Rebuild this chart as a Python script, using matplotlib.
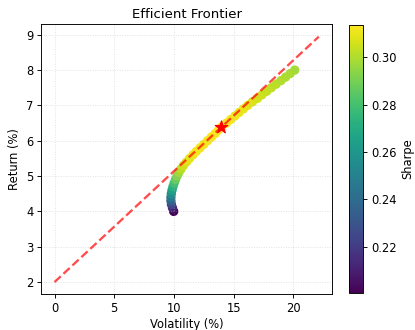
import numpy as np
import matplotlib
matplotlib.use("Agg")
import matplotlib.pyplot as plt

# frontier points (return %, volatility %)
frontier_ret = [4.0, 4.1, 4.2, 4.3, 4.4, 4.5, 4.6, 4.7, 4.8, 4.9,
                5.0, 5.1, 5.2, 5.3, 5.4, 5.5, 5.6, 5.7, 5.8, 5.9,
                6.0, 6.1, 6.2, 6.3, 6.4, 6.5, 6.6, 6.7, 6.8, 6.9,
                7.0, 7.1, 7.2, 7.3, 7.4, 7.5, 7.6, 7.7, 7.8, 7.9, 8.0]
frontier_vol = [9.98, 9.88, 9.79, 9.75, 9.75, 9.78, 9.84, 9.92, 10.02, 10.13,
                10.26, 10.42, 10.60, 10.80, 11.05, 11.31, 11.59, 11.88, 12.19, 12.50,
                12.81, 13.13, 13.44, 13.72, 14.03, 14.40, 14.75, 15.11, 15.46, 15.82,
                16.18, 16.58, 17.00, 17.38, 17.77, 18.16, 18.56, 18.96, 19.35, 19.73, 20.12]
risk_free = 2.0
max_sharpe_vol = 13.96
max_sharpe_ret = 6.38

vol = np.array(frontier_vol)
ret = np.array(frontier_ret)
sharpe = (ret - risk_free) / vol
best_sharpe = (max_sharpe_ret - risk_free) / max_sharpe_vol

fig = plt.figure(figsize=(5, 330 / 83), dpi=83)
ax = fig.add_axes([0.0995, 0.108, 0.7005, 0.818])
cax = fig.add_axes([0.842, 0.112, 0.033, 0.812])

sc = ax.scatter(vol, ret, c=sharpe, cmap='viridis', s=50)
cml_x = np.linspace(0, vol.max() * 1.1, 50)
ax.plot(cml_x, risk_free + best_sharpe * cml_x, 'r--', lw=2, alpha=0.7)
ax.scatter([max_sharpe_vol], [max_sharpe_ret], marker='*', color='red', s=130, zorder=3)

ax.set_title("Efficient Frontier", fontsize=11.5)
ax.set_xlabel("Volatility (%)", labelpad=2.5)
ax.set_ylabel("Return (%)")
ax.grid(True, linestyle=':', alpha=0.4)

cb = fig.colorbar(sc, cax=cax)
cb.set_label("Sharpe")

fig.savefig("out.png", dpi=83)
